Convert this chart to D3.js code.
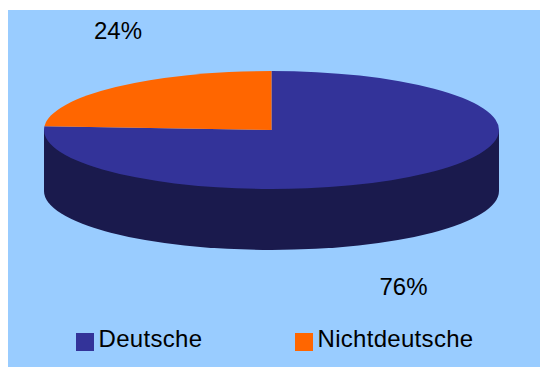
<!DOCTYPE html>
<html><head><meta charset="utf-8">
<script src="https://cdn.jsdelivr.net/npm/d3@7"></script>
<style>html,body{margin:0;padding:0;background:#fff}svg{display:block}text{font-family:"Liberation Sans",Arial,sans-serif;fill:#000}</style>
</head><body><svg id="c" width="540" height="367"></svg>
<script>
const categories = ["Deutsche", "Nichtdeutsche"];
const seriesValues = [76, 24];
const percentLabels = ["76%", "24%"];
const colors = ["#333399", "#FF6600"];
const W = 540, H = 367;
const cx = 271.5, cy = 130, rx = 227.5, ry = 59, depth = 61;
const svg = d3.select("#c");
svg.append("rect").attr("x", 8).attr("y", 10).attr("width", W - 8).attr("height", H - 10).attr("fill", "#99CCFF");

const color = d3.scaleOrdinal(categories, colors);
const pie = d3.pie().sort(null).value((d, i) => seriesValues[i]);
const arcs = pie(categories);
const arc = d3.arc().innerRadius(0).outerRadius(rx);
const full = d3.arc().innerRadius(0).outerRadius(rx).startAngle(0).endAngle(2 * Math.PI);
const sy = ry / rx;

// wall
svg.append("path").attr("d", full())
  .attr("transform", `translate(${cx},${cy + depth}) scale(1,${sy})`).attr("fill", "#1A1A4D");
svg.append("rect").attr("x", cx - rx).attr("y", cy).attr("width", 2 * rx).attr("height", depth).attr("fill", "#1A1A4D");

// top
svg.append("g").attr("transform", `translate(${cx},${cy}) scale(1,${sy})`)
  .selectAll("path").data(arcs).join("path")
  .attr("d", arc).attr("fill", d => color(d.data));

// percent labels
const labelPos = [[403.5, 295], [118, 39]];
svg.selectAll("text.pct").data(percentLabels).join("text").attr("class", "pct")
  .attr("x", (d, i) => labelPos[i][0]).attr("y", (d, i) => labelPos[i][1])
  .attr("text-anchor", "middle").attr("font-size", 24).text(d => d);

// legend
const legX = [76, 295], textX = [98.5, 317.5];
categories.forEach((c, i) => {
  svg.append("rect").attr("x", legX[i]).attr("y", 333).attr("width", 18).attr("height", 18).attr("fill", color(c));
  svg.append("text").attr("x", textX[i]).attr("y", 346.5).attr("font-size", 24).attr("letter-spacing", 0.3).text(c);
});
</script></body></html>
